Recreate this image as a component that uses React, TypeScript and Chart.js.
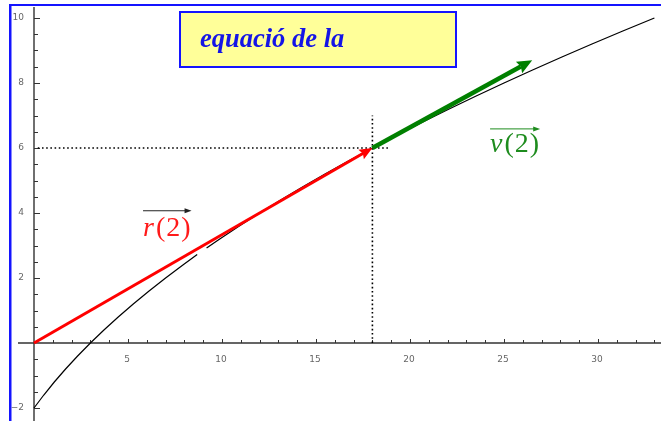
import React, { useEffect, useRef } from "react";
import { Chart, registerables } from "chart.js";

Chart.register(...registerables);

// Trajectory r(t) sampled for t = 0 … 3 (null marks the break in the drawn path)
const curveX = [0, 0.52, 1.08, 1.68, 2.32, 3.0, 3.72, 4.48, 5.28, 6.12, 7.0, 7.92, 8.68, null, 9.18, 9.88, 10.92, 12.0, 13.12, 14.28, 15.48, 16.72, 18.0, 19.32, 20.68, 22.08, 23.52, 25.0, 26.52, 28.08, 29.68, 31.32, 33.0];
const curveY = [-2, -1.6, -1.2, -0.8, -0.4, 0, 0.4, 0.8, 1.2, 1.6, 2.0, 2.4, 2.72, null, 2.92, 3.2, 3.6, 4.0, 4.4, 4.8, 5.2, 5.6, 6.0, 6.4, 6.8, 7.2, 7.6, 8.0, 8.4, 8.8, 9.2, 9.6, 10.0];

// Position vector r(2) and velocity vector v(2) drawn from its tip
const positionTail = [0, 0];
const positionTip = [18, 6];
const velocityTip = [26.5, 8.7];

// Dotted guides to the point r(2)
const guideHX = [0.2, 18.9];
const guideHY = [6, 6];
const guideVX = [18, 18];
const guideVY = [0, 7];

// Axis tick labels
const xTickLabels = [5, 10, 15, 20, 25, 30];
const yTickLabels = [-2, 2, 4, 6, 8, 10];

// Vector labels (data coordinates of the text baseline start)
const rLabelPos = [5.8, 3.3];
const vLabelPos = [24.26, 5.88];

const titleText = "equació de la";

const W = 661;
const H = 421;

function pts(xs: (number | null)[], ys: (number | null)[]) {
  return xs.map((x, i) => (x === null || ys[i] === null ? { x: NaN, y: NaN } : { x: x as number, y: ys[i] as number }));
}

function drawArrow(ctx: CanvasRenderingContext2D, x0: number, y0: number, x1: number, y1: number, lw: number, headLen: number, headHalf: number, color: string) {
  const a = Math.atan2(y1 - y0, x1 - x0);
  const c = Math.cos(a), s = Math.sin(a);
  const bx = x1 - headLen * c, by = y1 - headLen * s;
  ctx.save();
  ctx.strokeStyle = color;
  ctx.fillStyle = color;
  ctx.lineWidth = lw;
  ctx.lineCap = "butt";
  ctx.beginPath();
  ctx.moveTo(x0, y0);
  ctx.lineTo(bx + 2 * c, by + 2 * s);
  ctx.stroke();
  ctx.beginPath();
  ctx.moveTo(x1, y1);
  ctx.lineTo(bx - s * headHalf, by + c * headHalf);
  ctx.lineTo(bx + 2 * c, by + 2 * s);
  ctx.lineTo(bx + s * headHalf, by - c * headHalf);
  ctx.closePath();
  ctx.fill();
  ctx.restore();
}

function drawVectorLabel(ctx: CanvasRenderingContext2D, x: number, y: number, letter: string, color: string, overColor: string, overGap: number) {
  ctx.save();
  ctx.fillStyle = color;
  ctx.textBaseline = "alphabetic";
  ctx.textAlign = "left";
  ctx.font = "italic 28px 'Liberation Serif'";
  (ctx as any).letterSpacing = "1px";
  ctx.fillText(letter, x, y);
  const lw = ctx.measureText(letter).width;
  ctx.font = "28px 'Liberation Serif'";
  ctx.fillText("(2)", x + lw + 1, y);
  const total = lw + 1 + ctx.measureText("(2)").width;
  // arrow over the symbol
  const ay = y - overGap;
  ctx.strokeStyle = overColor;
  ctx.fillStyle = overColor;
  ctx.lineWidth = 1;
  ctx.beginPath();
  ctx.moveTo(x, ay);
  ctx.lineTo(x + total - 4, ay);
  ctx.stroke();
  ctx.beginPath();
  ctx.moveTo(x + total, ay);
  ctx.lineTo(x + total - 7, ay - 2.5);
  ctx.lineTo(x + total - 7, ay + 2.5);
  ctx.closePath();
  ctx.fill();
  ctx.restore();
}

const decorations = {
  id: "decorations",
  beforeDatasetsDraw(chart: any) {
    const ctx: CanvasRenderingContext2D = chart.ctx;
    const xs = chart.scales.x;
    const ys = chart.scales.y;
    const ox = xs.getPixelForValue(0);
    const oy = ys.getPixelForValue(0);
    ctx.save();
    // axes
    ctx.strokeStyle = "#333";
    ctx.lineWidth = 1.4;
    ctx.beginPath();
    ctx.moveTo(18, oy);
    ctx.lineTo(W, oy);
    ctx.moveTo(ox, 7);
    ctx.lineTo(ox, H);
    ctx.stroke();
    // x ticks: every unit, longer at multiples of 5
    ctx.lineWidth = 1;
    ctx.beginPath();
    for (let v = 1; v <= 33; v++) {
      const px = Math.round(xs.getPixelForValue(v)) + 0.5;
      const len = v % 5 === 0 ? 4 : 3;
      ctx.moveTo(px, oy);
      ctx.lineTo(px, oy - len);
    }
    // y ticks: every half unit, longer at labelled values
    for (let v = -2; v <= 10; v += 0.5) {
      if (v === 0) continue;
      const py = Math.round(ys.getPixelForValue(v)) + 0.5;
      const len = v % 2 === 0 ? 6 : 4;
      ctx.moveTo(ox, py);
      ctx.lineTo(ox + len, py);
    }
    ctx.stroke();
    // tick labels
    ctx.fillStyle = "#666";
    ctx.font = "9px 'DejaVu Sans'";
    ctx.textAlign = "center";
    ctx.textBaseline = "middle";
    xTickLabels.forEach((v) => ctx.fillText(String(v), xs.getPixelForValue(v) - 1, oy + 17));
    ctx.textAlign = "right";
    yTickLabels.forEach((v) => ctx.fillText(String(v).replace("-", "\u2212"), ox - 10, ys.getPixelForValue(v)));
    ctx.restore();
  },
  afterDatasetsDraw(chart: any) {
    const ctx: CanvasRenderingContext2D = chart.ctx;
    const xs = chart.scales.x;
    const ys = chart.scales.y;
    const P = (p: number[]) => [xs.getPixelForValue(p[0]), ys.getPixelForValue(p[1])];
    const [ax, ay] = P(positionTail);
    const [bx, by] = P(positionTip);
    const [cx, cy] = P(velocityTip);
    drawArrow(ctx, ax, ay, bx, by, 3, 13, 5.5, "#ff0000");
    drawArrow(ctx, bx, by, cx, cy, 4.5, 15, 6.5, "#008000");

    const [rx, ry] = P(rLabelPos);
    drawVectorLabel(ctx, rx, ry, "r", "#ff1a1a", "#222", 25);
    const [vx, vy] = P(vLabelPos);
    drawVectorLabel(ctx, vx, vy, "v", "#1e8c1e", "#1e8c1e", 23);

    ctx.save();
    // outer frame
    ctx.fillStyle = "#1414ff";
    ctx.fillRect(9, 4, 2.5, H - 4);
    ctx.fillRect(9, 4, W - 9, 2);
    // title box
    ctx.fillStyle = "#ffff99";
    ctx.fillRect(180, 12, 276, 55);
    ctx.strokeStyle = "#1414ff";
    ctx.lineWidth = 2;
    ctx.strokeRect(180, 12, 276, 55);
    ctx.fillStyle = "#1414e6";
    ctx.font = "italic bold 26.5px 'Liberation Serif'";
    ctx.textAlign = "left";
    ctx.textBaseline = "alphabetic";
    ctx.fillText(titleText, 200, 47);
    ctx.restore();
  },
};

export default function App() {
  const ref = useRef<HTMLCanvasElement | null>(null);
  useEffect(() => {
    if (!ref.current) return;
    const xPer = 18.8;
    const yPer = 32.5;
    const ox = 34;
    const oy = 343;
    const chart = new Chart(ref.current, {
      type: "scatter",
      data: {
        datasets: [
          {
            data: pts(curveX, curveY),
            showLine: true,
            borderColor: "#000",
            borderWidth: 1.2,
            pointRadius: 0,
            spanGaps: false,
          },
          {
            data: pts(guideHX, guideHY),
            showLine: true,
            borderColor: "#000",
            borderWidth: 1.6,
            borderDash: [1.6, 2.6],
            pointRadius: 0,
          },
          {
            data: pts(guideVX, guideVY),
            showLine: true,
            borderColor: "#000",
            borderWidth: 1.6,
            borderDash: [1.6, 2.6],
            pointRadius: 0,
          },
        ],
      } as any,
      options: {
        animation: false,
        responsive: false,
        devicePixelRatio: 1,
        layout: { padding: 0 },
        plugins: { legend: { display: false }, tooltip: { enabled: false } },
        events: [],
        scales: {
          x: { type: "linear", display: false, min: -ox / xPer, max: (W - ox) / xPer },
          y: { type: "linear", display: false, min: -(H - oy) / yPer, max: oy / yPer },
        },
      } as any,
      plugins: [decorations],
    });
    return () => chart.destroy();
  }, []);
  return (
    <div style={{ position: "fixed", left: 0, top: 0, width: W, height: H, background: "#fff" }}>
      <canvas ref={ref} width={W} height={H} style={{ display: "block", width: W, height: H }} />
    </div>
  );
}
